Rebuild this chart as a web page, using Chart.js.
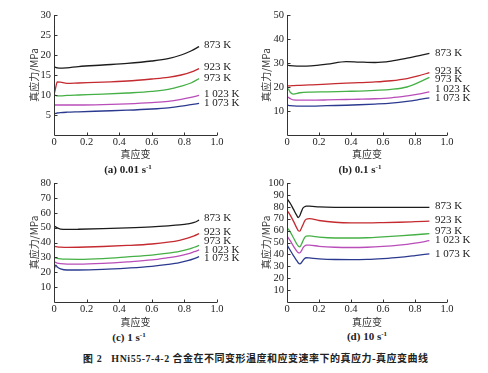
<!DOCTYPE html>
<html>
<head>
<meta charset="utf-8">
<script src="https://cdn.jsdelivr.net/npm/chart.js@4"></script>
<style>
  html, body { margin: 0; padding: 0; background: #fff; }
  #wrap { position: relative; width: 488px; height: 373px; overflow: hidden; }
  canvas { position: absolute; }
  .sub, .cap {
    position: absolute; font-family: "Liberation Serif", "Noto Sans CJK SC", serif;
    font-weight: bold; color: #222; white-space: nowrap; transform: translate(-50%, -50%);
  }
  .sub { font-size: 11px; }
  .sub sup { font-size: 7px; }
  .cap { font-size: 10px; font-family: "Noto Sans CJK SC", sans-serif; letter-spacing: 0.5px; }
</style>
</head>
<body>
<div id="wrap">
  <canvas id="ca" width="244" height="160" style="left:0;top:0"></canvas>
  <canvas id="cb" width="244" height="160" style="left:244px;top:0"></canvas>
  <canvas id="cc" width="244" height="158" style="left:0;top:170px"></canvas>
  <canvas id="cd" width="244" height="158" style="left:244px;top:170px"></canvas>
  <div class="sub" style="left:128px;top:169px">(a) 0.01 s<sup>-1</sup></div>
  <div class="sub" style="left:360px;top:169px">(b) 0.1 s<sup>-1</sup></div>
  <div class="sub" style="left:129px;top:337px">(c) 1 s<sup>-1</sup></div>
  <div class="sub" style="left:367px;top:336px">(d) 10 s<sup>-1</sup></div>
  <div class="cap" style="left:256px;top:358px"><span style="font-family:'Liberation Serif',serif">图 2&nbsp;&nbsp;&nbsp;HNi55-7-4-2</span> 合金在不同变形温度和应变速率下的真应力-真应变曲线</div>
</div>
<script>
// temperatures and colours
const tempLabels = ["873 K", "923 K", "973 K", "1 023 K", "1 073 K"];
const tempColors = ["#1c1c1c", "#c42a2f", "#45b045", "#b94db9", "#2b3a8f"];

// (a) 0.01 s-1
const strainA = [0, 0.01, 0.02, 0.04, 0.08, 0.15, 0.3, 0.45, 0.6, 0.7, 0.78, 0.84, 0.89];
const stressA873 = [17.2, 16.9, 16.8, 16.7, 16.8, 17.1, 17.5, 17.9, 18.5, 19.1, 20.0, 21.0, 22.1];
const stressA923 = [10.0, 11.8, 13.3, 13.2, 12.9, 13.0, 13.2, 13.5, 14.0, 14.4, 15.0, 15.7, 16.6];
const stressA973 = [10.0, 9.9, 9.8, 9.8, 9.9, 10.0, 10.2, 10.5, 10.9, 11.4, 12.2, 13.0, 14.1];
const stressA1023 = [7.5, 7.5, 7.5, 7.5, 7.5, 7.5, 7.6, 7.8, 8.1, 8.4, 8.9, 9.4, 9.9];
const stressA1073 = [5.3, 5.4, 5.5, 5.6, 5.7, 5.8, 6.0, 6.2, 6.5, 6.8, 7.2, 7.6, 7.9];
const labelYA = [22.5, 16.9, 14.1, 10.2, 7.9];

// (b) 0.1 s-1
const strainB = [0, 0.01, 0.02, 0.04, 0.08, 0.15, 0.25, 0.37, 0.45, 0.55, 0.65, 0.75, 0.82, 0.89];
const stressB873 = [29.0, 29.0, 28.9, 28.8, 28.7, 28.8, 29.5, 30.6, 30.4, 30.2, 30.8, 32.0, 33.0, 34.0];
const stressB923 = [20.5, 20.5, 20.5, 20.6, 20.7, 20.9, 21.2, 21.6, 21.8, 22.1, 22.6, 23.5, 24.6, 26.0];
const stressB973 = [19.5, 19.0, 17.8, 17.0, 17.6, 17.9, 18.0, 18.2, 18.3, 18.6, 19.0, 20.0, 21.8, 24.0];
const stressB1023 = [16.0, 15.6, 15.2, 14.6, 14.5, 14.5, 14.6, 14.8, 14.9, 15.1, 15.5, 16.3, 17.0, 18.0];
const stressB1073 = [12.4, 12.3, 12.2, 12.1, 12.0, 12.0, 12.2, 12.4, 12.6, 12.9, 13.3, 14.0, 14.7, 15.5];
const labelYB = [34, 26.7, 23.2, 19, 15.3];

// (c) 1 s-1
const strainC = [0, 0.01, 0.02, 0.04, 0.08, 0.15, 0.3, 0.45, 0.6, 0.7, 0.77, 0.82, 0.86, 0.89];
const stressC873 = [51.0, 50.5, 49.8, 49.0, 48.8, 48.9, 49.3, 49.8, 50.5, 51.2, 51.8, 52.5, 53.5, 55.0];
const stressC923 = [37.5, 37.3, 37.1, 36.9, 36.7, 36.8, 37.3, 38.0, 39.0, 40.2, 41.5, 43.0, 44.5, 46.0];
const stressC973 = [30.0, 29.6, 29.3, 29.0, 28.8, 28.7, 29.2, 30.3, 31.5, 32.8, 34.0, 35.3, 36.8, 38.0];
const stressC1023 = [27.0, 26.6, 26.2, 25.8, 25.5, 25.5, 26.0, 27.0, 28.3, 29.8, 31.0, 32.3, 33.8, 35.0];
const stressC1073 = [21.5, 24.8, 23.5, 22.3, 21.5, 21.5, 21.9, 22.8, 24.0, 25.3, 26.5, 27.8, 29.2, 30.5];
const labelYC = [56.4, 47.2, 41.2, 35.1, 29.5];

// (d) 10 s-1
const strainD = [0, 0.02, 0.04, 0.06, 0.07, 0.08, 0.09, 0.1, 0.11, 0.12, 0.14, 0.2, 0.3, 0.4, 0.5, 0.6, 0.7, 0.8, 0.89];
const stressD873 = [87, 83, 78, 73, 71, 72.5, 76, 79, 80, 80.5, 80.5, 80, 79.6, 79.5, 79.5, 79.5, 79.5, 79.5, 79.5];
const stressD923 = [77, 73, 68, 62.5, 60, 59.5, 62, 65, 68, 69.5, 70, 68.5, 67, 66.5, 66.5, 66.7, 67, 67.5, 68];
const stressD973 = [62.5, 59, 54, 49, 47, 46.3, 48.5, 51.5, 54, 55.3, 55.5, 54.5, 53.8, 53.8, 54, 54.7, 55.5, 56.5, 57.5];
const stressD1023 = [55.5, 51.5, 47, 43, 41.5, 41.2, 43, 45.5, 47, 47.8, 47.8, 46.8, 46, 45.8, 46, 46.7, 47.8, 49.5, 51.5];
const stressD1073 = [48, 43.5, 39, 35, 33, 32, 33, 35, 36.5, 37.2, 37, 36.3, 35.7, 35.6, 35.8, 36.5, 37.5, 39, 40.5];
const labelYD = [80.4, 68.7, 59.5, 51.6, 40.4];

const serif = "'Liberation Serif', 'Noto Sans CJK SC', serif";
const cjk = "'Noto Sans CJK SC', 'Liberation Serif', sans-serif";
const axisColor = "#333";

// axis lines, inward tick marks and temperature labels at the right end
const extrasPlugin = {
  id: "extras",
  afterDraw(chart, args, opts) {
    const { ctx, chartArea, scales } = chart;
    const left = Math.round(chartArea.left) + 0.5;
    const bottom = Math.round(chartArea.bottom) + 0.5;
    ctx.save();
    ctx.strokeStyle = axisColor;
    ctx.lineWidth = 1;
    ctx.beginPath();
    ctx.moveTo(left, chartArea.top);
    ctx.lineTo(left, bottom);
    ctx.lineTo(chartArea.right, bottom);
    scales.y.ticks.forEach((t) => {
      if (t.value === 0) return;
      const py = Math.round(scales.y.getPixelForValue(t.value)) + 0.5;
      ctx.moveTo(left, py);
      ctx.lineTo(left + 3, py);
    });
    scales.x.ticks.forEach((t) => {
      if (t.value === 0) return;
      const px = Math.round(scales.x.getPixelForValue(t.value)) + 0.5;
      ctx.moveTo(px, bottom);
      ctx.lineTo(px, bottom - 3);
    });
    ctx.stroke();

    ctx.fillStyle = "#222";
    ctx.font = "11px " + serif;
    ctx.textBaseline = "middle";
    ctx.textAlign = "left";
    tempLabels.forEach((lab, i) => {
      ctx.fillText(lab, scales.x.getPixelForValue(opts.labelX), scales.y.getPixelForValue(opts.labelY[i]));
    });
    ctx.restore();
  },
};

function makeChart(id, strain, series, yMax, yStep, labelY, labelX, pad, yWidth, xHeight) {
  const datasets = series.map((vals, i) => ({
    label: tempLabels[i],
    data: strain.map((s, k) => ({ x: s, y: vals[k] })),
    borderColor: tempColors[i],
    borderWidth: 1.3,
    pointRadius: 0,
    cubicInterpolationMode: "monotone",
    fill: false,
  }));

  return new Chart(document.getElementById(id), {
    type: "line",
    data: { datasets: datasets },
    plugins: [extrasPlugin],
    options: {
      responsive: false,
      animation: false,
      layout: { padding: pad },
      scales: {
        x: {
          type: "linear",
          min: 0,
          max: 1,
          grid: { display: false, drawTicks: false, tickLength: 0 },
          border: { display: false },
          ticks: {
            stepSize: 0.2,
            autoSkip: false,
            maxRotation: 0,
            padding: 1,
            color: "#222",
            font: { family: serif, size: 10.5 },
            callback: (v) => (v === 0 ? "0" : v.toFixed(1)),
          },
          title: {
            display: true,
            text: "真应变",
            color: "#333",
            padding: 0,
            font: { family: cjk, size: 10, lineHeight: 1.2 },
          },
          afterFit: (scale) => { scale.height = xHeight; },
        },
        y: {
          type: "linear",
          min: 0,
          max: yMax,
          grid: { display: false, drawTicks: false, tickLength: 0 },
          border: { display: false },
          ticks: {
            stepSize: yStep,
            autoSkip: false,
            padding: 3,
            color: "#222",
            font: { family: serif, size: 10.5 },
            callback: (v) => (v === 0 ? "" : v),
          },
          title: {
            display: true,
            text: "真应力/MPa",
            color: "#333",
            padding: 0,
            font: { family: cjk, size: 10, lineHeight: 1.2 },
          },
          afterFit: (scale) => { scale.width = yWidth; },
        },
      },
      plugins: {
        legend: { display: false },
        tooltip: { enabled: false },
        extras: { labelY: labelY, labelX: labelX },
      },
    },
  });
}

makeChart("ca", strainA, [stressA873, stressA923, stressA973, stressA1023, stressA1073],
  30, 5, labelYA, 0.92, { left: 28, top: 15, right: 27, bottom: 0 }, 26, 25);
makeChart("cb", strainB, [stressB873, stressB923, stressB973, stressB1023, stressB1073],
  50, 10, labelYB, 0.925, { left: 16, top: 15, right: 41, bottom: 0 }, 27, 25);
makeChart("cc", strainC, [stressC873, stressC923, stressC973, stressC1023, stressC1073],
  80, 10, labelYC, 0.92, { left: 28, top: 13, right: 27, bottom: 0 }, 26, 26);
makeChart("cd", strainD, [stressD873, stressD923, stressD973, stressD1023, stressD1073],
  100, 10, labelYD, 0.925, { left: 16, top: 13, right: 41, bottom: 0 }, 27, 26);
</script>
</body>
</html>
